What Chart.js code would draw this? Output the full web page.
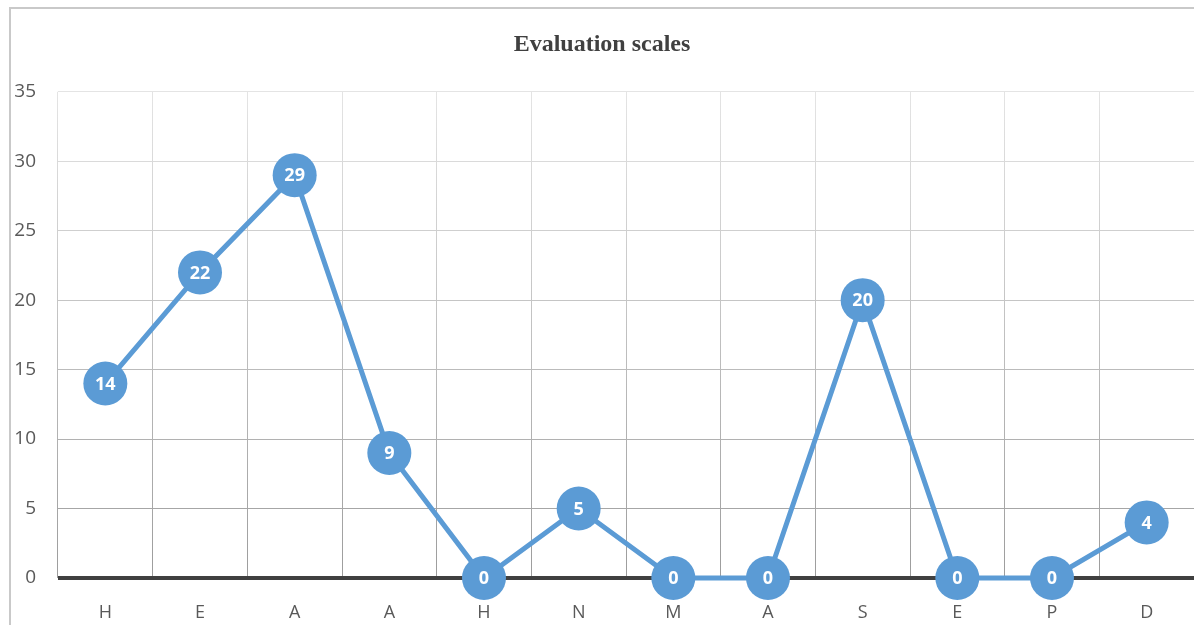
<!DOCTYPE html>
<html>
<head>
<meta charset="utf-8">
<script src="https://cdn.jsdelivr.net/npm/chart.js@4"></script>
<style>
  html, body { margin: 0; padding: 0; background: #fff; }
  #wrap { width: 1194px; height: 625px; position: relative; }
</style>
</head>
<body>
<div id="wrap"><canvas id="evalchart"></canvas></div>
<script>
const categories = ['H', 'E', 'A', 'A', 'H', 'N', 'M', 'A', 'S', 'E', 'P', 'D'];
const scores = [14, 22, 29, 9, 0, 5, 0, 0, 20, 0, 0, 4];
const yTicks = [0, 5, 10, 15, 20, 25, 30, 35];

const lineBlue = '#5b9bd5';

// light grey grid at the top getting darker towards the bottom
function greyAt(frac) {
  const v = Math.round(228 - 72 * frac);
  return 'rgb(' + v + ',' + v + ',' + v + ')';
}

const framePlugin = {
  id: 'frame',
  beforeDraw(chart) {
    const ctx = chart.ctx;
    ctx.save();
    ctx.strokeStyle = '#c9c9c9';
    ctx.lineWidth = 2;
    ctx.beginPath();
    ctx.moveTo(10, 640);
    ctx.lineTo(10, 8);
    ctx.lineTo(1210, 8);
    ctx.stroke();
    ctx.restore();
  }
};

const pointLabels = {
  id: 'pointLabels',
  afterDatasetsDraw(chart) {
    const ctx = chart.ctx;
    const meta = chart.getDatasetMeta(0);
    ctx.save();
    ctx.fillStyle = '#ffffff';
    ctx.font = 'bold 18px "Open Sans"';
    ctx.textAlign = 'center';
    ctx.textBaseline = 'middle';
    meta.data.forEach((pt, i) => {
      ctx.fillText(String(scores[i]), pt.x, pt.y + 1);
    });
    ctx.restore();
  }
};

const evalconfig = {
  type: 'line',
  data: {
    labels: categories,
    datasets: [{
      label: 'Evaluation scales',
      data: scores,
      borderColor: lineBlue,
      backgroundColor: lineBlue,
      borderWidth: 5,
      pointRadius: 22,
      pointHoverRadius: 22,
      pointBorderWidth: 0,
      pointBackgroundColor: lineBlue,
      tension: 0,
      clip: false
    }]
  },
  options: {
    responsive: true,
    maintainAspectRatio: false,
    animation: false,
    layout: { autoPadding: false, padding: { left: 10, right: 0, top: 0, bottom: 0 } },
    scales: {
      x: {
        offset: true,
        afterFit: (scale) => { scale.height = 47; },
        grid: {
          offset: true,
          drawTicks: false,
          lineWidth: 1,
          color: (c) => {
            const area = c.chart.chartArea;
            if (!area) return '#c0c0c0';
            const g = c.chart.ctx.createLinearGradient(0, area.top, 0, area.bottom);
            g.addColorStop(0, greyAt(0));
            g.addColorStop(1, greyAt(1));
            return g;
          }
        },
        border: { display: false },
        ticks: {
          color: '#595959',
          padding: 24,
          font: { family: 'Open Sans', size: 18 }
        }
      },
      y: {
        min: 0,
        max: 35,
        afterFit: (scale) => { scale.width = 48; },
        afterBuildTicks: (scale) => { scale.ticks = yTicks.map(v => ({ value: v })); },
        grid: {
          drawTicks: false,
          color: (c) => c.tick && c.tick.value === 0 ? '#404040' : greyAt(1 - c.tick.value / 35),
          lineWidth: (c) => c.tick && c.tick.value === 0 ? 4 : 1
        },
        border: { display: false },
        ticks: {
          color: '#595959',
          padding: 22,
          font: { family: 'Open Sans', size: 19 }
        }
      }
    },
    plugins: {
      legend: { display: false },
      tooltip: { enabled: false },
      title: {
        display: true,
        text: 'Evaluation scales',
        color: '#404040',
        font: { family: 'Liberation Serif', size: 24, weight: 'bold' },
        padding: { top: 30, bottom: 33 }
      }
    }
  },
  plugins: [framePlugin, pointLabels]
};

const evalchart = new Chart(
  document.getElementById('evalchart'),
  evalconfig
);
</script>
</body>
</html>
